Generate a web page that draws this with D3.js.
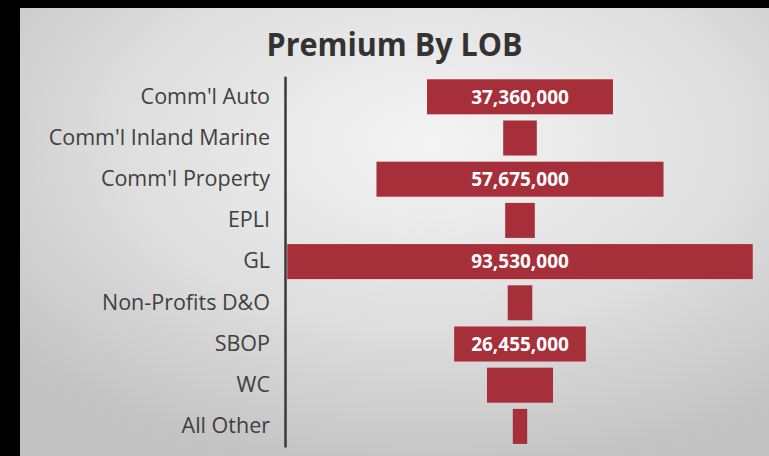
<!DOCTYPE html>
<html>
<head>
<meta charset="utf-8">
<script src="https://cdn.jsdelivr.net/npm/d3@7/dist/d3.min.js"></script>
<style>
  html, body { margin: 0; padding: 0; background: #000; }
  svg { display: block; }
</style>
</head>
<body>
<svg id="chart" width="769" height="456"></svg>
<script>
const categories = ["Comm'l Auto", "Comm'l Inland Marine", "Comm'l Property", "EPLI", "GL", "Non-Profits D&O", "SBOP", "WC", "All Other"];
const premiums = [37360000, 6750000, 57675000, 5950000, 93530000, 4940000, 26455000, 13260000, 2890000];
const chartTitle = "Premium By LOB";

const W = 769, H = 456;
const svg = d3.select("#chart");

// frame + background
svg.append("rect").attr("width", W).attr("height", H).attr("fill", "#000");
const defs = svg.append("defs");
const grad = defs.append("radialGradient").attr("id", "bg")
  .attr("cx", "55%").attr("cy", "30%").attr("r", "75%");
grad.append("stop").attr("offset", "0%").attr("stop-color", "#f4f4f4");
grad.append("stop").attr("offset", "55%").attr("stop-color", "#dedede");
grad.append("stop").attr("offset", "100%").attr("stop-color", "#c2c2c2");
svg.append("rect").attr("x", 20).attr("y", 8).attr("width", W - 20).attr("height", H - 8)
  .attr("fill", "url(#bg)");

// title
svg.append("text")
  .attr("x", 394.5).attr("y", 56)
  .attr("text-anchor", "middle")
  .attr("font-family", "'Open Sans', Lato, sans-serif")
  .attr("font-weight", "bold")
  .attr("font-size", 33)
  .attr("fill", "#333333")
  .attr("textLength", 256).attr("lengthAdjust", "spacingAndGlyphs")
  .text(chartTitle);

// scales
const y = d3.scaleBand().domain(categories).range([76.2, 447]).paddingInner(0.15).paddingOuter(0.075);
const x = d3.scaleLinear().domain([0, d3.max(premiums)]).range([0, 465.5]);
const cx = 520;

const data = categories.map((c, i) => ({ cat: c, val: premiums[i] }));

// bars
svg.append("g").selectAll("rect").data(data).join("rect")
  .attr("x", d => cx - x(d.val) / 2)
  .attr("y", d => y(d.cat))
  .attr("width", d => x(d.val))
  .attr("height", y.bandwidth())
  .attr("fill", "#a62f39");

// value labels
const fmt = d3.format(",");
svg.append("g").selectAll("text").data(data.filter(d => x(d.val) > 110)).join("text")
  .attr("x", cx)
  .attr("y", d => y(d.cat) + y.bandwidth() / 2)
  .attr("dy", "0.36em")
  .attr("text-anchor", "middle")
  .attr("font-family", "'Open Sans', Lato, sans-serif")
  .attr("font-weight", "bold")
  .attr("font-size", 19)
  .attr("fill", "#ffffff")
  .text(d => fmt(d.val));

// axis (category labels)
const axis = d3.axisLeft(y).tickSize(0).tickPadding(15);
const ag = svg.append("g").attr("transform", "translate(285,0)").call(axis);
ag.select(".domain").attr("stroke", "#3a3a3a").attr("stroke-width", 2.5);
ag.selectAll("text")
  .attr("font-family", "'Open Sans', Lato, sans-serif")
  .attr("font-size", 21.5)
  .attr("fill", "#404040");
</script>
</body>
</html>
